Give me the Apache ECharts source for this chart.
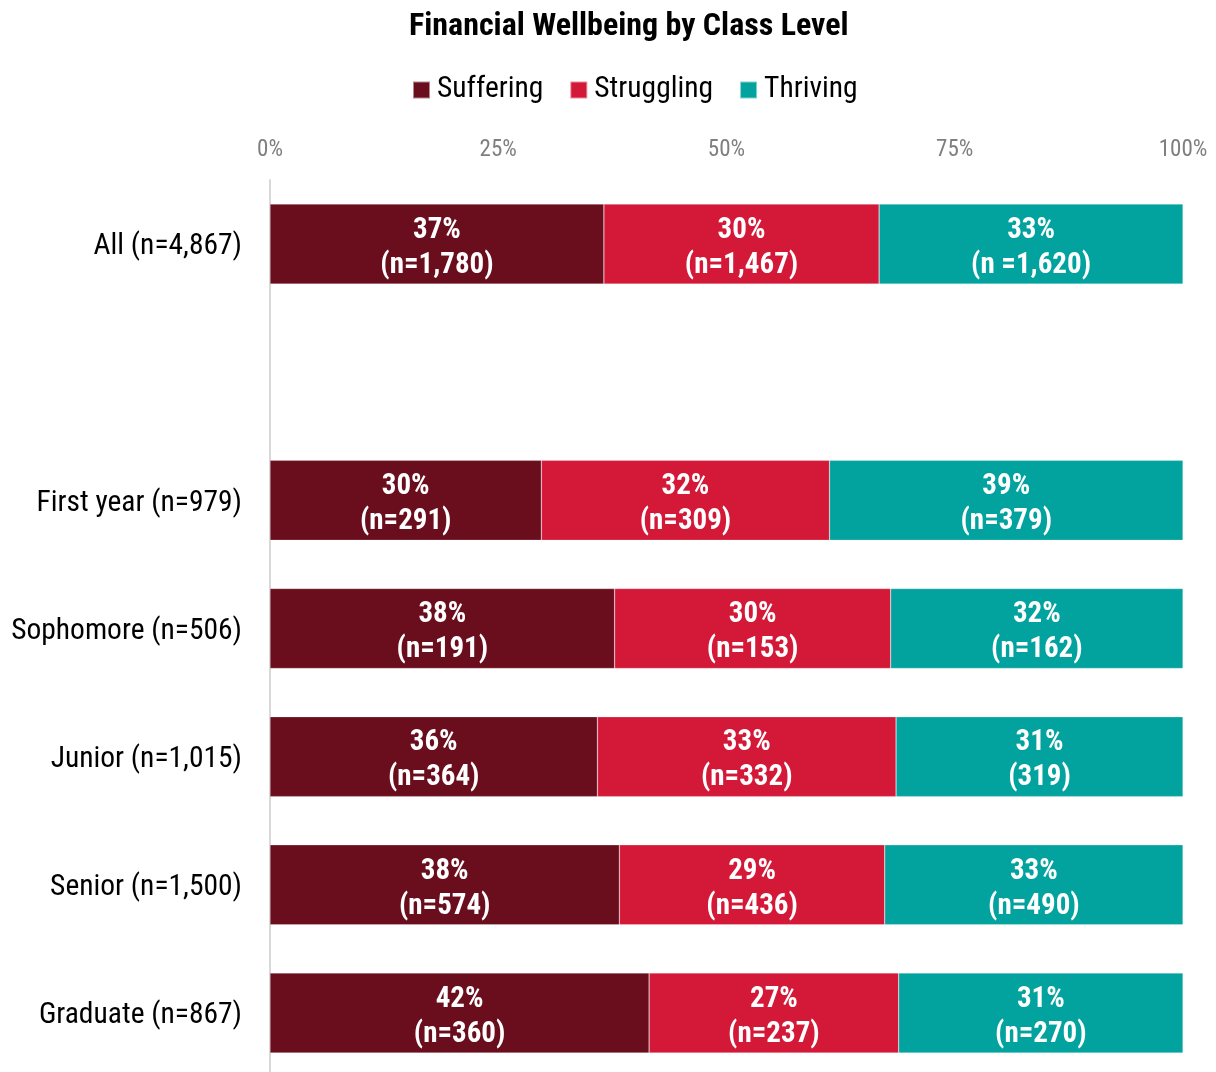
<!DOCTYPE html>
<html>
<head>
<meta charset="utf-8">
<title>Financial Wellbeing by Class Level</title>
<script src="https://cdn.jsdelivr.net/npm/echarts@6/dist/echarts.min.js"></script>
<style>
  html, body { margin: 0; padding: 0; background: #fff; }
  #chart { width: 1216px; height: 1072px; }
</style>
</head>
<body>
<div id="chart"></div>
<script>
// rows top to bottom; the blank row is the gap under "All"
var categories = ['All (n=4,867)', '', 'First year (n=979)', 'Sophomore (n=506)', 'Junior (n=1,015)', 'Senior (n=1,500)', 'Graduate (n=867)'];
var suffering  = [1780, null, 291, 191, 364, 574, 360];
var struggling = [1467, null, 309, 153, 332, 436, 237];
var thriving   = [1620, null, 379, 162, 319, 490, 270];
// count labels as printed on the bars
var sufferingN  = ['(n=1,780)', '', '(n=291)', '(n=191)', '(n=364)', '(n=574)', '(n=360)'];
var strugglingN = ['(n=1,467)', '', '(n=309)', '(n=153)', '(n=332)', '(n=436)', '(n=237)'];
var thrivingN   = ['(n =1,620)', '', '(n=379)', '(n=162)', '(319)', '(n=490)', '(n=270)'];
var xTicks = [0, 25, 50, 75, 100];

var FONT = '"Roboto Condensed", "Liberation Sans Narrow", "DejaVu Sans Condensed", Roboto, sans-serif';

function share(arr, i) {
  var tot = (suffering[i] || 0) + (struggling[i] || 0) + (thriving[i] || 0);
  return arr[i] == null ? null : arr[i] / tot * 100;
}

function makeSeries(name, arr, nLabels, color) {
  return {
    name: name,
    type: 'bar',
    stack: 'total',
    barWidth: 80,
    data: arr.map(function (v, i) { return share(arr, i); }),
    itemStyle: { color: color, borderColor: 'rgba(255,255,255,0.5)', borderWidth: 0.5 },
    label: {
      show: true,
      position: 'inside',
      offset: [0, 4],
      color: '#fff',
      fontFamily: FONT,
      fontWeight: 'bold',
      fontSize: 29,
      lineHeight: 35,
      formatter: function (p) {
        if (p.value == null) return '';
        return Math.round(p.value) + '%\n' + nLabels[p.dataIndex];
      }
    }
  };
}

var chart = echarts.init(document.getElementById('chart'));
chart.setOption({
  animation: false,
  textStyle: { fontFamily: FONT },
  title: {
    text: 'Financial Wellbeing by Class Level',
    left: 404,
    top: 6,
    textStyle: { fontFamily: FONT, fontWeight: 'bold', fontSize: 32, color: '#000' }
  },
  legend: {
    top: 70,
    left: 407,
    icon: 'rect',
    itemWidth: 17,
    itemHeight: 17,
    itemGap: 26,
    textStyle: { fontFamily: FONT, fontSize: 29.5, color: '#000', padding: [0, 0, 0, 2] },
    data: ['Suffering', 'Struggling', 'Thriving']
  },
  grid: { left: 270, right: 33, top: 180, height: 897, outerBoundsMode: 'none' },
  xAxis: {
    type: 'value',
    position: 'top',
    min: 0,
    max: 100,
    interval: 25,
    axisLine: { show: false },
    axisTick: { show: false },
    splitLine: { show: false },
    axisLabel: {
      margin: 18,
      color: '#7f7f7f',
      fontFamily: FONT,
      fontSize: 23,
      formatter: function (v) { return xTicks.indexOf(v) >= 0 ? v + '%' : ''; }
    }
  },
  yAxis: {
    type: 'category',
    inverse: true,
    data: categories,
    axisLine: { show: true, lineStyle: { color: '#d9d9d9', width: 2 } },
    axisTick: { show: false },
    axisLabel: {
      margin: 28,
      formatter: function (v) { return v ? '{c|' + v + '}' : ''; },
      rich: { c: { color: '#000', fontFamily: FONT, fontSize: 29.5, padding: [6, 0, 0, 0] } }
    }
  },
  series: [
    makeSeries('Suffering', suffering, sufferingN, '#6a0d1d'),
    makeSeries('Struggling', struggling, strugglingN, '#d31838'),
    makeSeries('Thriving', thriving, thrivingN, '#02a39f')
  ]
});
</script>
</body>
</html>
